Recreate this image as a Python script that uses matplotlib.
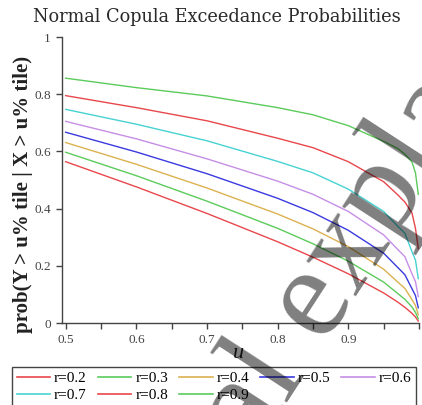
import matplotlib
matplotlib.use("Agg")
import matplotlib.pyplot as plt
from matplotlib.lines import Line2D
from matplotlib.ticker import MultipleLocator

# values
u = [0.5, 0.6, 0.7, 0.8, 0.85, 0.9, 0.95, 0.97, 0.98, 0.99, 0.995, 0.999]
r_labels = ["r=0.2", "r=0.3", "r=0.4", "r=0.5", "r=0.6", "r=0.7", "r=0.8", "r=0.9"]
p_r2 = [0.564, 0.476, 0.383, 0.284, 0.230, 0.172, 0.105, 0.073, 0.055, 0.034, 0.021, 0.007]
p_r3 = [0.597, 0.515, 0.426, 0.331, 0.277, 0.216, 0.143, 0.103, 0.083, 0.056, 0.037, 0.015]
p_r4 = [0.631, 0.555, 0.472, 0.381, 0.329, 0.267, 0.188, 0.143, 0.121, 0.082, 0.061, 0.029]
p_r5 = [0.667, 0.598, 0.522, 0.436, 0.386, 0.324, 0.244, 0.194, 0.169, 0.120, 0.096, 0.053]
p_r6 = [0.705, 0.644, 0.574, 0.496, 0.450, 0.390, 0.308, 0.257, 0.232, 0.172, 0.145, 0.092]
p_r7 = [0.747, 0.695, 0.637, 0.565, 0.525, 0.468, 0.390, 0.338, 0.314, 0.250, 0.220, 0.155]
p_r8 = [0.795, 0.753, 0.707, 0.646, 0.613, 0.564, 0.494, 0.448, 0.423, 0.385, 0.331, 0.260]
p_r9 = [0.856, 0.823, 0.794, 0.753, 0.728, 0.690, 0.635, 0.610, 0.590, 0.563, 0.525, 0.450]
series = [p_r2, p_r3, p_r4, p_r5, p_r6, p_r7, p_r8, p_r9]
colors = ["#e8474c", "#5ccb5c", "#dcb150", "#3a3ae0",
          "#c68ee6", "#48d2d2", "#e8474c", "#5ccb5c"]

W, H = 422, 405
fig = plt.figure(figsize=(W / 100, H / 100), dpi=100)
ax = fig.add_axes([62 / W, 1 - 323 / H, (419 - 62) / W, (323 - 37) / H])

for vals, c, lab in zip(series, colors, r_labels):
    ax.plot(u, vals, color=c, lw=1.0, label=lab)

ax.set_xlim(0.4948, 1.0)
ax.set_ylim(0, 1)
for s in ["top", "right"]:
    ax.spines[s].set_visible(False)
for s in ["left", "bottom"]:
    ax.spines[s].set_color("#444444")
    ax.spines[s].set_linewidth(1.0)

ax.set_xticks([0.5, 0.6, 0.7, 0.8, 0.9])
ax.set_xticklabels(["0.5", "0.6", "0.7", "0.8", "0.9"])
ax.xaxis.set_minor_locator(MultipleLocator(0.05))
ax.set_yticks([0, 0.2, 0.4, 0.6, 0.8, 1.0])
ax.set_yticklabels(["0", "0.2", "0.4", "0.6", "0.8", "1"])
ax.tick_params(axis="both", which="both", direction="out", length=4,
               width=1, color="#444444", labelcolor="#444444", pad=4)
for t in ax.get_xticklabels() + ax.get_yticklabels():
    t.set_fontfamily("Liberation Serif")
    t.set_fontsize(9.5)

ax.set_ylabel("prob(Y > u% tile | X > u% tile)", family="Liberation Serif",
              fontsize=15, fontweight="bold", color="#222222")
ax.yaxis.set_label_coords(-0.08, 0.45)
ax.set_xlabel("u", family="Liberation Serif", fontsize=16, style="italic",
              color="#222222")
ax.xaxis.set_label_coords(0.493, -0.075)

fig.text(0.513, 1 - 17 / H, "Normal Copula Exceedance Probabilities",
         ha="center", va="center", family="DejaVu Serif", fontsize=12.8,
         color="#2a2a2a")

# legend filled row by row like the original
order = [0, 5, 1, 6, 2, 7, 3, 4]
leg = fig.legend([Line2D([], [], color=colors[i], lw=1.2) for i in order],
                 [r_labels[i] for i in order], ncol=5, loc="upper left",
                 bbox_to_anchor=(12 / W, 1 - 367 / H), borderaxespad=0,
                 prop={"family": "Liberation Serif", "size": 11},
                 handlelength=2.2, handletextpad=0.25, columnspacing=0.72,
                 labelspacing=0.2, borderpad=0.3, fancybox=False,
                 framealpha=1)
leg.get_frame().set_edgecolor("#444444")
leg.get_frame().set_linewidth(1.0)

# watermark
fig.text(295 / W, 1 - 333 / H, "lobal expla", family="Liberation Serif",
         fontsize=95, rotation=57, ha="center", va="center",
         color="#000000", alpha=0.5, zorder=10)

fig.savefig("out.png", dpi=100)
